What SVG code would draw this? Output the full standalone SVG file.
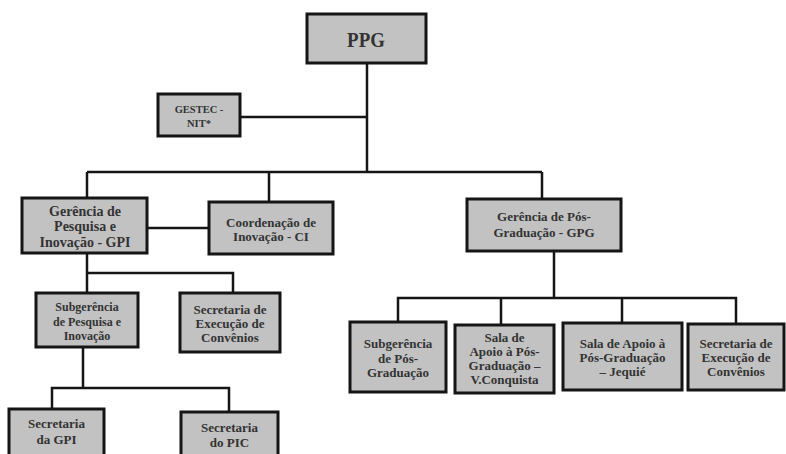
<svg xmlns="http://www.w3.org/2000/svg" width="786" height="454" viewBox="0 0 786 454">
<style>
.box{fill:#c2c2c2;stroke:#151515;stroke-width:3}
.t{font-family:"Liberation Serif","DejaVu Serif",serif;font-weight:bold;fill:#333;text-anchor:middle}
.s14{font-size:14px}.s13{font-size:13px}.s12{font-size:12px}
.c{stroke:#151515;stroke-width:2.5;fill:none}
</style>
<rect width="786" height="454" fill="#fff"/>
<g id="connectors">
<path class="c" d="M367 63V172M240 117H367M87 172H542M87 172V198M269 172V202M542 172V199M147 228H209"/>
<path class="c" d="M87 253V293M87 273H233V293"/>
<path class="c" d="M83 347V388M52 409V388H229V412"/>
<path class="c" d="M554 251V298M398 322V298H736V324M501 298V325M622 298V323"/>
</g>
<g id="ppg"><rect class="box" x="307" y="14" width="119" height="49"/><text class="t" x="366" y="47" font-size="21" transform="translate(366 0) scale(0.9 1) translate(-366 0)">PPG</text></g>
<g id="gestec"><rect class="box" x="158" y="94" width="82" height="42"/><text class="t" font-size="10.5" x="199" y="113">GESTEC -</text><text class="t" font-size="10.5" x="199" y="127">NIT*</text></g>
<g id="gpi"><rect class="box" x="22" y="198" width="125" height="55"/><text class="t s14" x="85" y="216">Gerência de</text><text class="t s14" x="85" y="231">Pesquisa e</text><text class="t s14" x="85" y="247">Inovação - GPI</text></g>
<g id="ci"><rect class="box" x="209" y="202" width="124" height="52"/><text class="t s13" x="271" y="227">Coordenação de</text><text class="t s13" x="271" y="241">Inovação - CI</text></g>
<g id="gpg"><rect class="box" x="467" y="199" width="154" height="52"/><text class="t s13" x="544" y="221">Gerência de Pós-</text><text class="t s13" x="544" y="237">Graduação - GPG</text></g>
<g id="subpesq"><rect class="box" x="36" y="293" width="102" height="54"/><text class="t s12" x="87" y="311">Subgerência</text><text class="t s12" x="87" y="326">de Pesquisa e</text><text class="t s12" x="87" y="340">Inovação</text></g>
<g id="secexec1"><rect class="box" x="180" y="293" width="100" height="59"/><text class="t s13" x="230" y="313.5">Secretaria de</text><text class="t s13" x="230" y="327.5">Execução de</text><text class="t s13" x="230" y="341.5">Convênios</text></g>
<g id="secgpi"><rect class="box" x="9" y="409" width="95" height="52"/><text class="t s13" x="56.5" y="428">Secretaria</text><text class="t s13" x="56.5" y="444">da GPI</text></g>
<g id="secpic"><rect class="box" x="181" y="412" width="97" height="50"/><text class="t s13" x="229.5" y="432">Secretaria</text><text class="t s13" x="229.5" y="447">do PIC</text></g>
<g id="subpos"><rect class="box" x="350" y="322" width="96" height="70"/><text class="t s13" x="398" y="347.5">Subgerência</text><text class="t s13" x="398" y="362.5">de Pós-</text><text class="t s13" x="398" y="376.5">Graduação</text></g>
<g id="salavc"><rect class="box" x="455" y="325" width="99" height="68"/><text class="t s13" x="504.5" y="342">Sala de</text><text class="t s13" x="504.5" y="356">Apoio à Pós-</text><text class="t s13" x="504.5" y="370">Graduação –</text><text class="t s13" x="504.5" y="384">V.Conquista</text></g>
<g id="salaj"><rect class="box" x="563" y="323" width="119" height="67"/><text class="t s13" x="622.5" y="347.5">Sala de Apoio à</text><text class="t s13" x="622.5" y="361.5">Pós-Graduação</text><text class="t s13" x="622.5" y="375.5">– Jequié</text></g>
<g id="secexec2"><rect class="box" x="688" y="324" width="96" height="66"/><text class="t s13" x="736" y="347.5">Secretaria de</text><text class="t s13" x="736" y="362">Execução de</text><text class="t s13" x="736" y="376">Convênios</text></g>
</svg>
